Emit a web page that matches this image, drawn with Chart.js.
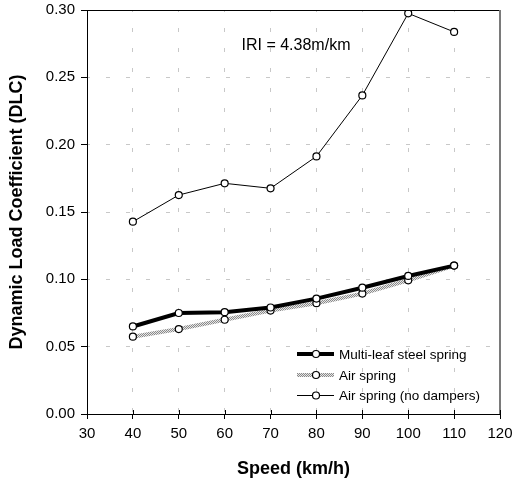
<!DOCTYPE html>
<html>
<head>
<meta charset="utf-8">
<script src="https://cdn.jsdelivr.net/npm/chart.js@4.4.1/dist/chart.umd.min.js"></script>
<style>
html,body{margin:0;padding:0;background:#fff;}
#c{display:block;}
</style>
</head>
<body>
<canvas id="c" width="521" height="488"></canvas>
<script>
// ---- data ----
const speeds = [40, 50, 60, 70, 80, 90, 100, 110];
const steelSpring = [0.065, 0.075, 0.0756, 0.0791, 0.0857, 0.0938, 0.1025, 0.1102];
const airSpring = [0.0574, 0.0631, 0.0700, 0.0768, 0.0823, 0.0894, 0.0993, 0.1102];
const airNoDampers = [0.1428, 0.1626, 0.1713, 0.1676, 0.1913, 0.2366, 0.2975, 0.2837];
const seriesNames = ['Multi-leaf steel spring', 'Air spring', 'Air spring (no dampers)'];
const xTicks = [30, 40, 50, 60, 70, 80, 90, 100, 110, 120];
const yTicks = [0, 0.05, 0.10, 0.15, 0.20, 0.25, 0.30];
const annotationText = 'IRI = 4.38m/km';

const FONT = '"Liberation Sans", Arial, sans-serif';

// checkered gray pattern for the air spring line
function makePattern() {
  const p = document.createElement('canvas');
  p.width = 2; p.height = 2;
  const g = p.getContext('2d');
  g.fillStyle = '#e6e6e6'; g.fillRect(0, 0, 2, 2);
  g.fillStyle = '#8a8a8a'; g.fillRect(0, 0, 1, 1); g.fillRect(1, 1, 1, 1);
  return g.createPattern(p, 'repeat');
}
const airPattern = makePattern();

function pts(ys) { return speeds.map((s, i) => ({x: s, y: ys[i]})); }

const extras = {
  id: 'extras',
  afterDraw(chart) {
    const ctx = chart.ctx;
    const a = chart.chartArea;
    const xs = chart.scales.x;
    ctx.save();
    // top border
    ctx.strokeStyle = '#000'; ctx.lineWidth = 1;
    ctx.beginPath(); ctx.moveTo(a.left, a.top + 0.5); ctx.lineTo(a.right, a.top + 0.5); ctx.stroke();
    // right border (gray)
    ctx.strokeStyle = '#7a7a7a'; ctx.lineWidth = 2;
    ctx.beginPath(); ctx.moveTo(a.right, a.top); ctx.lineTo(a.right, a.bottom); ctx.stroke();
    // x ticks crossing above axis
    ctx.strokeStyle = '#000'; ctx.lineWidth = 1;
    xTicks.forEach(v => {
      const px = Math.round(xs.getPixelForValue(v)) + 0.5;
      ctx.beginPath(); ctx.moveTo(px, a.bottom - 4); ctx.lineTo(px, a.bottom); ctx.stroke();
    });
    // annotation
    ctx.fillStyle = '#000';
    ctx.font = '16px ' + FONT;
    ctx.textAlign = 'center'; ctx.textBaseline = 'middle';
    ctx.fillText(annotationText, 296, 46);
    // legend
    const rows = [354, 375, 395];
    const x0 = 297, x1 = 334, mx = 316, tx = 339;
    ctx.font = '13.5px ' + FONT;
    ctx.textAlign = 'left';
    chart.data.datasets.forEach((ds, i) => {
      const y = rows[i] + (ds.borderWidth % 2 === 1 ? 0.5 : 0);
      ctx.strokeStyle = ds.borderColor; ctx.lineWidth = ds.borderWidth;
      ctx.beginPath(); ctx.moveTo(x0, y); ctx.lineTo(x1, y); ctx.stroke();
      ctx.fillStyle = '#fff'; ctx.strokeStyle = '#000'; ctx.lineWidth = 1.2;
      ctx.beginPath(); ctx.arc(mx, y, 3.5, 0, Math.PI * 2); ctx.fill(); ctx.stroke();
      ctx.fillStyle = '#000';
      ctx.fillText(ds.label, tx, rows[i] + 1);
    });
    ctx.restore();
  }
};

new Chart(document.getElementById('c'), {
  type: 'line',
  data: {
    datasets: [
      {label: seriesNames[0], data: pts(steelSpring), borderColor: '#000', borderWidth: 4, order: 1,
       pointRadius: 3.5, pointBackgroundColor: '#fff', pointBorderColor: '#000', pointBorderWidth: 1.2},
      {label: seriesNames[1], data: pts(airSpring), borderColor: airPattern, borderWidth: 4, order: 2,
       pointRadius: 3.5, pointBackgroundColor: '#fff', pointBorderColor: '#000', pointBorderWidth: 1.2},
      {label: seriesNames[2], data: pts(airNoDampers), borderColor: '#000', borderWidth: 1, order: 3,
       pointRadius: 3.5, pointBackgroundColor: '#fff', pointBorderColor: '#000', pointBorderWidth: 1.2}
    ]
  },
  options: {
    responsive: false,
    animation: false,
    devicePixelRatio: 1,
    layout: {padding: {left: 0, right: 21, top: 10, bottom: 0}},
    plugins: {legend: {display: false}, tooltip: {enabled: false}},
    elements: {line: {tension: 0}},
    scales: {
      x: {
        type: 'linear', min: 30, max: 120,
        afterBuildTicks: s => { s.ticks = xTicks.map(v => ({value: v})); },
        afterFit: s => { s.height = 74; s.paddingLeft = 0; s.paddingRight = 0; },
        ticks: {font: {family: FONT, size: 15}, color: '#000', padding: 6, maxRotation: 0,
                callback: v => String(v)},
        grid: {color: c => (c.tick && (c.tick.value === 30 || c.tick.value === 120)) ? 'rgba(0,0,0,0)' : '#c8c8c8',
               lineWidth: 1, tickColor: '#000', tickLength: 5, drawTicks: true},
        border: {display: true, color: '#000', width: 1, dash: [4, 16], dashOffset: 2},
        title: {display: true, text: 'Speed (km/h)', color: '#000',
                font: {family: FONT, size: 18, weight: 'bold'}, padding: {top: 4, bottom: 8}}
      },
      y: {
        type: 'linear', min: 0, max: 0.3,
        afterBuildTicks: s => { s.ticks = yTicks.map(v => ({value: v})); },
        afterFit: s => { s.width = 87; s.paddingTop = 0; s.paddingBottom = 0; },
        ticks: {font: {family: FONT, size: 15}, color: '#000', padding: 6,
                callback: v => Number(v).toFixed(2)},
        grid: {color: c => (c.tick && (c.tick.value === 0 || Math.abs(c.tick.value - 0.3) < 1e-9)) ? 'rgba(0,0,0,0)' : '#c8c8c8',
               lineWidth: 1, tickColor: '#000', tickLength: 6, drawTicks: true},
        border: {display: true, color: '#000', width: 1, dash: [4, 16], dashOffset: 2},
        title: {display: true, text: 'Dynamic Load Coefficient (DLC)', color: '#000',
                font: {family: FONT, size: 18, weight: 'bold'}, padding: {top: 6, bottom: 0}}
      }
    }
  },
  plugins: [extras]
});
</script>
</body>
</html>
